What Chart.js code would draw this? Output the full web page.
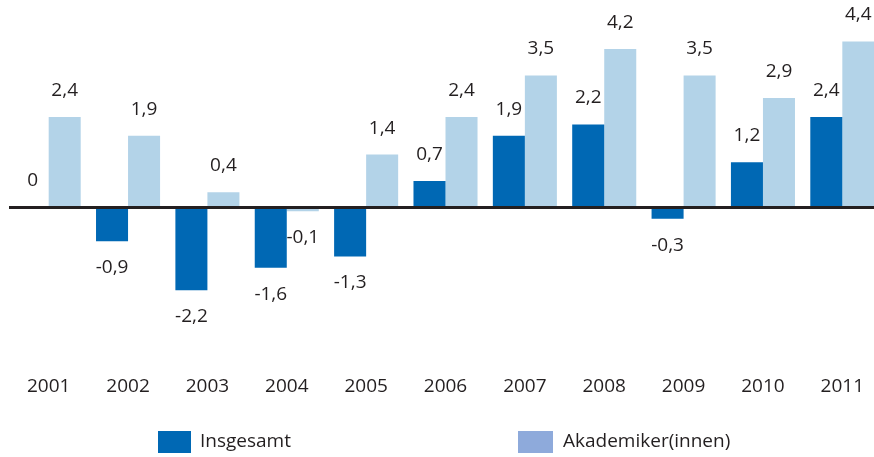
<!DOCTYPE html>
<html>
<head>
<meta charset="utf-8">
<script src="https://cdn.jsdelivr.net/npm/chart.js@4.4.1/dist/chart.umd.min.js"></script>
<style>
html,body{margin:0;padding:0;background:#fff;overflow:hidden;width:874px;height:457px;}
#wrap{position:absolute;left:0;top:0;width:882px;height:457px;}
.lg{position:absolute;font-family:"Open Sans",sans-serif;font-size:19px;color:#231f20;line-height:22px;white-space:nowrap;}
</style>
</head>
<body>
<div id="wrap"><canvas id="c" width="882" height="457"></canvas></div>
<div id="legend"></div>
<script>
const categories = ["2001","2002","2003","2004","2005","2006","2007","2008","2009","2010","2011"];
const insgesamt = [0, -0.9, -2.2, -1.6, -1.3, 0.7, 1.9, 2.2, -0.3, 1.2, 2.4];
const akademiker = [2.4, 1.9, 0.4, -0.1, 1.4, 2.4, 3.5, 4.2, 3.5, 2.9, 4.4];
const seriesLabels = ["Insgesamt", "Akademiker(innen)"];
const barColors = ["#0068b4", "#b3d3e8"];
const legendColors = ["#0068b4", "#8eaadb"];

const FONT = '"Open Sans", sans-serif';
const TEXT = '#231f20';

const valueLabels = {
  id: 'valueLabels',
  afterDatasetsDraw(chart) {
    const ctx = chart.ctx;
    ctx.save();
    ctx.font = '19px ' + FONT;
    ctx.fillStyle = TEXT;
    ctx.textAlign = 'center';
    chart.data.datasets.forEach((ds, i) => {
      const meta = chart.getDatasetMeta(i);
      meta.data.forEach((bar, j) => {
        const v = ds.data[j];
        const txt = v === 0 ? '0' : v.toFixed(1).replace('.', ',');
        if (v >= 0) {
          ctx.textBaseline = 'alphabetic';
          ctx.fillText(txt, bar.x, bar.y - 21);
        } else {
          ctx.textBaseline = 'top';
          ctx.fillText(txt, bar.x, bar.y + 17);
        }
      });
    });
    ctx.restore();
  }
};

new Chart(document.getElementById('c'), {
  type: 'bar',
  data: {
    labels: categories,
    datasets: [
      { label: seriesLabels[0], data: insgesamt, backgroundColor: barColors[0], categoryPercentage: 0.807, barPercentage: 1.0 },
      { label: seriesLabels[1], data: akademiker, backgroundColor: barColors[1], categoryPercentage: 0.807, barPercentage: 1.0 }
    ]
  },
  options: {
    responsive: false,
    animation: false,
    layout: { padding: { left: 9, right: 0, top: 0, bottom: 42 } },
    plugins: { legend: { display: false }, tooltip: { enabled: false } },
    scales: {
      x: {
        grid: { display: false, drawTicks: false },
        border: { display: false },
        ticks: { color: TEXT, font: { family: FONT, size: 19 }, padding: 17 }
      },
      y: {
        min: -4, max: 5.5,
        afterBuildTicks(axis) { axis.ticks = [{ value: 0 }]; },
        grid: { color: '#231f20', lineWidth: 3, drawTicks: false },
        border: { display: false },
        ticks: { display: false }
      }
    }
  },
  plugins: [valueLabels]
});

// HTML legend built from series arrays
const legendPos = [{box: 158, w: 33, text: 200}, {box: 518, w: 35, text: 563}];
const lg = document.getElementById('legend');
seriesLabels.forEach((lab, i) => {
  const b = document.createElement('div');
  b.style.cssText = `position:absolute;left:${legendPos[i].box}px;top:431px;width:${legendPos[i].w}px;height:22px;background:${legendColors[i]};`;
  lg.appendChild(b);
  const t = document.createElement('div');
  t.className = 'lg';
  t.style.left = legendPos[i].text + 'px';
  t.style.top = '429px';
  t.textContent = lab;
  lg.appendChild(t);
});
</script>
</body>
</html>
